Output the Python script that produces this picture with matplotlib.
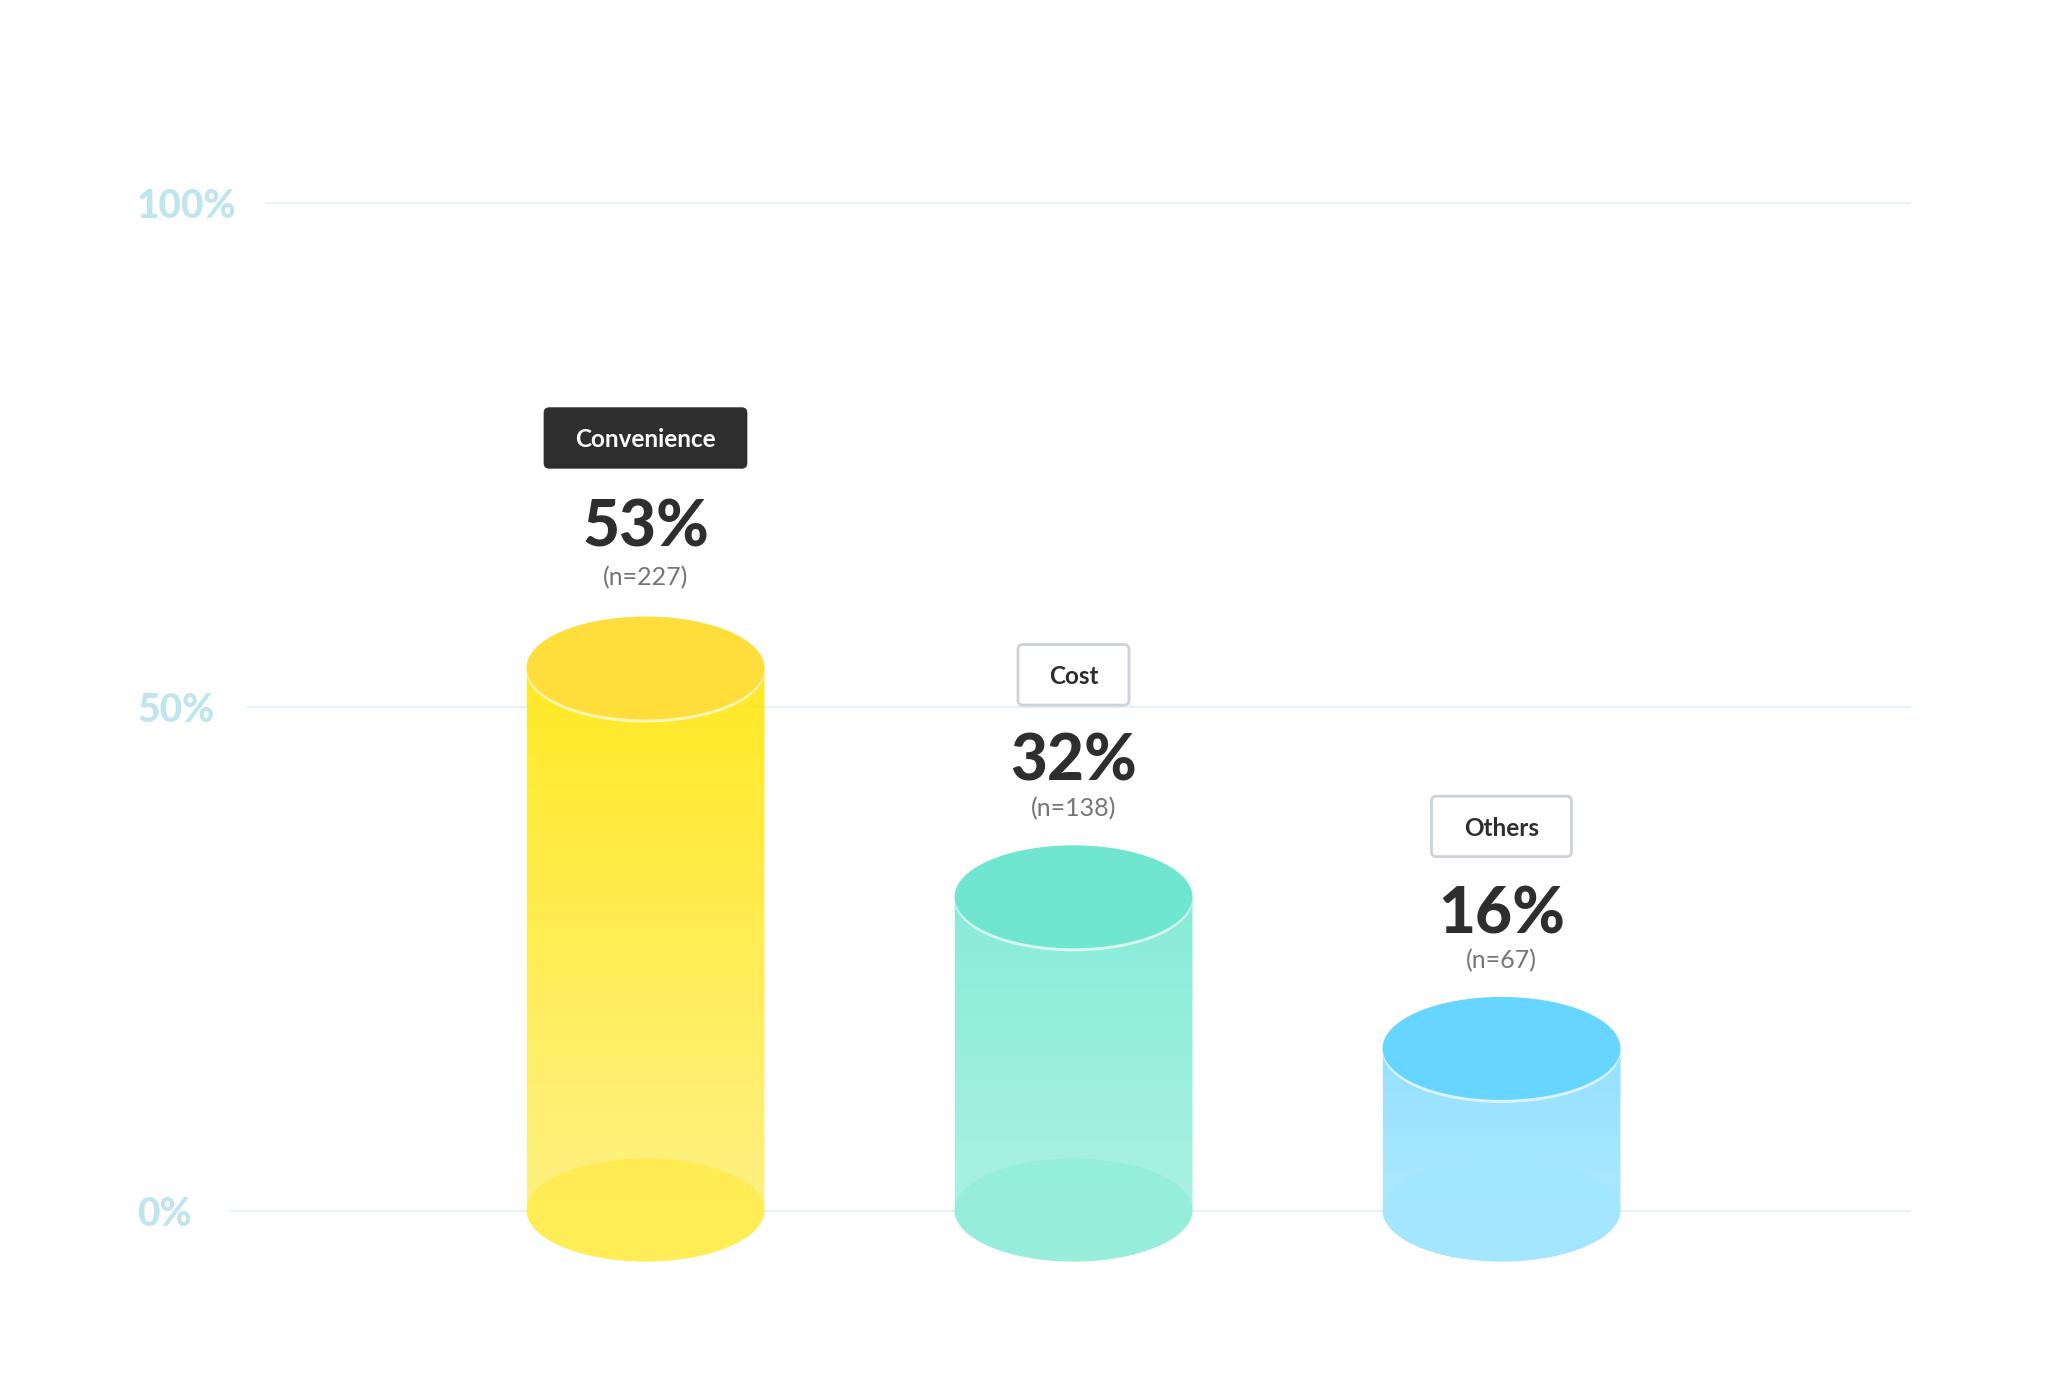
import numpy as np
import matplotlib
matplotlib.use("Agg")
from matplotlib import pyplot as plt
from matplotlib.colors import to_rgb
from matplotlib.patches import Ellipse, FancyBboxPatch, PathPatch
from matplotlib.path import Path

categories = ["Convenience", "Cost", "Others"]
labels_pct = ["53%", "32%", "16%"]
labels_n = ["(n=227)", "(n=138)", "(n=67)"]
# height of the cylinder top
tops = [53.87, 31.17, 16.13]

tick_values = [0, 50, 100]
tick_labels = ["0%", "50%", "100%"]

top_colors = ["#FFDD3A", "#70E6D0", "#66D5FF"]
grad_start = ["#FFE600", "#74E9D2", "#82DCFF"]
grad_end = ["#FFF07A", "#A4F0E0", "#AAE8FF"]
base_colors = ["#FFEC4A", "#92EDDA", "#A2E6FF"]

plt.rcParams["font.family"] = ["Lato", "DejaVu Sans"]

W, H = 2048, 1384
y0_px, y100_px = 1211, 203
x0_px, dx_px = 645.5, 428
py = (y0_px - y100_px) / 100  # px per percent

fig = plt.figure(figsize=(W / 100, H / 100), dpi=100)
ax = fig.add_axes([0, 0, 1, 1])
xlim = (-x0_px / dx_px, (W - x0_px) / dx_px)
ylim = ((y0_px - H) / py, y0_px / py)


def px_x(p):
    return (p - x0_px) / dx_px


# grid, each line starts right after its label
grid_start = [231, 248, 267]
for v, lab, st in zip(tick_values, tick_labels, grid_start):
    ax.plot([px_x(st), px_x(1910)], [v, v], color="#E3F2F5", lw=1.5, zorder=1)
    ax.text(px_x(137), v, lab, color="#C0E5EE", fontsize=28, fontweight="black",
            ha="left", va="center_baseline", zorder=2)

bar_w = 238 / dx_px
ell_h = 103 / py
floor_y = 1 / py  # floor ellipse sits a touch above the zero line
box_w = [203, 111, 140]
box_off = [-230, -222, -222]
pct_off = [-145, -140, -139]
n_off = [-92, -90, -90]

for i, cat in enumerate(categories):
    top = tops[i]
    # body: rectangle with rounded bottom
    left, right = i - bar_w / 2, i + bar_w / 2
    k = 0.5523
    low = floor_y - ell_h / 2
    verts = [(left, top), (right, top), (right, floor_y),
             (right, floor_y - k * ell_h / 2), (i + k * bar_w / 2, low), (i, low),
             (i - k * bar_w / 2, low), (left, floor_y - k * ell_h / 2), (left, floor_y),
             (left, top)]
    codes = [Path.MOVETO, Path.LINETO, Path.LINETO,
             Path.CURVE4, Path.CURVE4, Path.CURVE4,
             Path.CURVE4, Path.CURVE4, Path.CURVE4,
             Path.CLOSEPOLY]
    clip = PathPatch(Path(verts, codes), transform=ax.transData, fc="none", ec="none")
    ax.add_patch(clip)

    c1 = np.array(to_rgb(grad_start[i]))
    c2 = np.array(to_rgb(grad_end[i]))
    t = np.linspace(0, 1, 256)[:, None]
    grad = (c1 * (1 - t) + c2 * t)[:, None, :]
    alpha = np.full((256, 1, 1), 0.86)
    img = ax.imshow(np.concatenate([grad, alpha], axis=2), extent=(left, right, low, top),
                    origin="upper", aspect="auto", zorder=3)
    img.set_clip_path(clip)

    # floor of the cylinder
    ax.add_patch(Ellipse((i, floor_y), bar_w, ell_h, fc=base_colors[i], ec="none", alpha=0.8, zorder=4))
    # thin white rim below the lid
    ax.add_patch(Ellipse((i, top - 3 / py), bar_w, ell_h, fc="white", ec="none", alpha=0.65, zorder=5))
    ax.add_patch(Ellipse((i, top), bar_w, ell_h, fc=top_colors[i], ec="none", zorder=6))

    # labels sit at fixed pixel distance above the lid
    box_h = 60.5 / py
    box_y = top - box_off[i] / py
    w = box_w[i] / dx_px
    dark = i == 0
    ax.add_patch(FancyBboxPatch((i - w / 2, box_y - box_h / 2), w, box_h,
                                boxstyle="round,pad=0,rounding_size=%f" % (5 / dx_px),
                                mutation_aspect=dx_px / py,
                                fc="#2E2E2E" if dark else "white",
                                ec="#2E2E2E" if dark else "#CDD2DA",
                                lw=0.5 if dark else 2, zorder=7))
    ax.text(i, box_y, cat, color="white" if dark else "#2E2E2E", fontsize=17.5, fontweight="bold",
            ha="center", va="center_baseline", zorder=8)
    ax.text(i, top - pct_off[i] / py, labels_pct[i], color="#2E2E2E", fontsize=46, fontweight="black",
            ha="center", va="center_baseline", zorder=8)
    ax.text(i, top - n_off[i] / py, labels_n[i], color="#757575", fontsize=18,
            ha="center", va="center_baseline", zorder=8)

ax.set_xlim(*xlim)
ax.set_ylim(*ylim)
ax.axis("off")
fig.savefig("out.png", dpi=100, facecolor="white")
